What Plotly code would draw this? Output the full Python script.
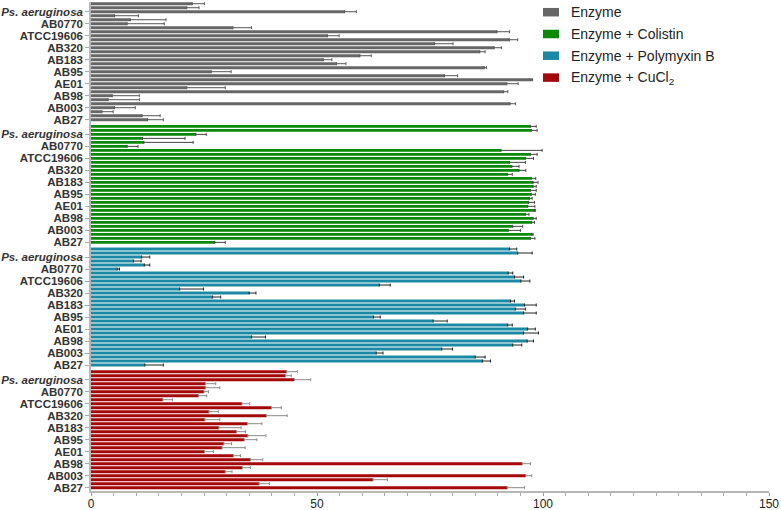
import plotly.graph_objects as go

# ---------------- data ----------------
strain_labels = ["<i>Ps. aeruginosa</i>", "AB0770", "ATCC19606", "AB320", "AB183",
                 "AB95", "AE01", "AB98", "AB003", "AB27"]
series_names = ["Enzyme", "Enzyme + Colistin", "Enzyme + Polymyxin B", "Enzyme + CuCl<sub>2</sub>"]

enzyme = [22.4, 21.2, 56.1, 5.2, 8.7, 8.0, 31.4, 89.8, 52.3, 92.6,
          76.0, 89.2, 86.0, 59.5, 51.4, 54.3, 87.0, 26.6, 78.2, 97.4,
          92.0, 21.2, 91.3, 4.7, 3.8, 92.7, 5.2, 2.4, 11.3, 12.5]
enzyme_err = [2.7, 2.7, 2.6, 5.3, 7.9, 8.2, 4.1, 2.8, 2.6, 1.8,
              4.1, 1.6, 1.2, 2.5, 1.9, 2.1, 0.5, 4.4, 2.9, 0.3,
              2.5, 8.5, 0.9, 6.0, 6.9, 1.2, 4.6, 2.5, 4.0, 3.5]

colistin = [97.2, 97.4, 23.2, 11.4, 11.7, 8.0, 90.7, 97.2, 96.1, 92.6,
            93.1, 94.7, 92.1, 97.4, 97.8, 97.8, 97.2, 97.4, 97.0, 96.8,
            96.6, 98.1, 96.1, 97.8, 97.5, 93.3, 92.3, 97.6, 97.2, 27.4]
colistin_err = [1.3, 1.3, 2.3, 9.4, 10.9, 2.4, 9.1, 1.5, 1.8, 3.5,
                1.6, 1.5, 1.1, 1.0, 1.1, 0.7, 1.3, 0.9, 0.6, 1.3,
                1.6, 0.2, 0.8, 0.7, 0.6, 2.2, 2.7, 0.2, 1.0, 2.3]

polymyxin = [92.6, 94.4, 11.2, 9.4, 11.8, 5.8, 92.3, 93.7, 95.1, 63.8,
             19.6, 35.0, 26.9, 92.8, 95.9, 93.9, 95.7, 62.5, 75.7, 92.2,
             96.6, 95.7, 35.5, 96.5, 93.3, 77.6, 63.1, 85.0, 86.6, 11.9]
polymyxin_err = [1.6, 3.2, 1.8, 1.7, 1.2, 0.5, 1.0, 2.0, 2.0, 2.4,
                 5.3, 1.5, 1.8, 0.9, 2.6, 2.2, 2.8, 1.5, 3.1, 1.0,
                 1.7, 3.3, 3.1, 1.4, 2.0, 2.4, 1.5, 2.2, 1.8, 4.1]

cucl2 = [43.3, 43.0, 45.0, 25.3, 25.3, 25.0, 23.8, 15.9, 33.4, 39.9,
         26.1, 38.8, 25.2, 34.6, 28.3, 32.2, 34.7, 33.9, 29.4, 29.0,
         25.1, 31.5, 35.3, 95.4, 33.5, 29.7, 96.2, 62.4, 37.2, 92.1]
cucl2_err = [2.4, 1.3, 3.6, 2.3, 3.2, 1.0, 1.8, 2.1, 1.7, 2.2,
             2.1, 4.6, 3.3, 3.2, 4.9, 2.0, 4.0, 2.8, 1.7, 5.1,
             2.0, 1.6, 2.7, 1.8, 1.8, 1.5, 1.3, 3.2, 2.3, 3.8]

x_tick_values = [0, 50, 100, 150]

# ---------------- style ----------------
bar_colors = ["#666666", "#0a8a0a", "#1b89a3", "#a50808"]
err_colors = ["#555555", "#444444", "#222222", "#8a8a8a"]
FONT = "Liberation Sans, Arial, sans-serif"

values = [enzyme, colistin, polymyxin, cucl2]
errors = [enzyme_err, colistin_err, polymyxin_err, cucl2_err]

n_per_group = len(enzyme)
group_period = n_per_group + 2.0 / 3.0
label_every = 3

fig = go.Figure()
tickvals, ticktext = [], []
for g, (vals, errs) in enumerate(zip(values, errors)):
    ypos = [g * group_period + i for i in range(len(vals))]
    fig.add_trace(go.Bar(
        x=vals, y=ypos, orientation="h", width=0.74,
        marker=dict(color=bar_colors[g], line=dict(width=0)),
        error_x=dict(type="data", symmetric=False, array=errs,
                     arrayminus=[0] * len(errs), color=err_colors[g],
                     thickness=1, width=1.5),
        name=series_names[g], showlegend=False,
    ))
    for k, lab in enumerate(strain_labels):
        tickvals.append(g * group_period + label_every * k + (label_every - 1))
        ticktext.append(lab)

# plot area geometry in pixels
W, H = 781, 510
ml, mr, mt, mb = 91, 12, 2, 19
pw, ph = W - ml - mr, H - mt - mb

last_pos = 3 * group_period + n_per_group - 1
fig.update_yaxes(
    range=[last_pos + 0.83, -0.43], automargin=False,
    tickmode="array", tickvals=tickvals, ticktext=ticktext,
    ticks="outside", ticklen=4, tickcolor="#aaaaaa", tickwidth=1,
    showline=True, linecolor="#b8b8b8", linewidth=1.5,
    showgrid=False, zeroline=False,
    tickfont=dict(family=FONT, size=11.5, color="#333333", weight="bold"),
)
fig.update_xaxes(
    range=[0, 150], tickvals=x_tick_values, automargin=False,
    ticks="outside", ticklen=3, tickcolor="#999999",
    minor=dict(dtick=5, ticks="outside", ticklen=3, tickcolor="#aaaaaa"),
    showline=True, linecolor="#b8b8b8", linewidth=1.5,
    showgrid=False, zeroline=False, ticklabelstandoff=-2,
    tickfont=dict(family=FONT, size=12, color="#222222"),
)

# manual legend (paper coordinates derived from pixel layout)
legend_rows_px = [12.2, 34.0, 55.7, 77.6]
sq_x0, sq_x1, sq_h, txt_x = 543, 559, 8.5, 569
def px_x(p):
    return (p - ml) / pw
def px_y(p):
    return (H - mb - p) / ph
for g, cy in enumerate(legend_rows_px):
    fig.add_shape(type="rect", xref="paper", yref="paper",
                  x0=px_x(sq_x0), x1=px_x(sq_x1),
                  y0=px_y(cy + sq_h / 2), y1=px_y(cy - sq_h / 2),
                  fillcolor=bar_colors[g], line=dict(width=0))
    fig.add_annotation(xref="paper", yref="paper", x=px_x(txt_x), y=px_y(cy),
                       text=series_names[g], showarrow=False,
                       xanchor="left", yanchor="middle",
                       font=dict(family=FONT, size=14, color="#222222"))

fig.update_layout(
    width=W, height=H,
    margin=dict(l=ml, r=mr, t=mt, b=mb, autoexpand=False),
    plot_bgcolor="white", paper_bgcolor="white",
    bargap=0.25, showlegend=False,
)

fig.write_html("out.html", config={"displayModeBar": False},
               post_script="document.body.style.margin='0';document.body.style.overflow='hidden';")
